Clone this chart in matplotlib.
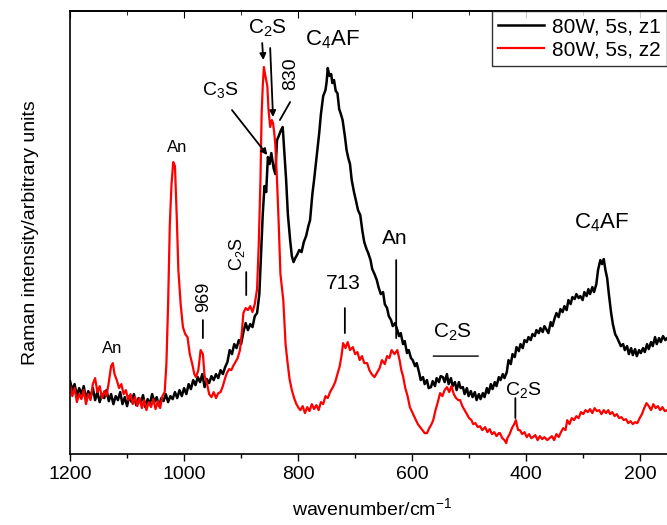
import numpy as np
import matplotlib
matplotlib.use('Agg')
import matplotlib.pyplot as plt

plt.rcParams['font.family'] = ['Liberation Sans', 'DejaVu Sans']
plt.rcParams['mathtext.fontset'] = 'custom'
plt.rcParams['mathtext.rm'] = 'Liberation Sans'
plt.rcParams['mathtext.it'] = 'Liberation Sans'

# 80W, 5s, z1 (black)
wn_z1 = [1200, 1196, 1192, 1188, 1184, 1180, 1176, 1172, 1168, 1164, 1160, 1156, 1152, 1148, 1144,
         1140, 1136, 1132, 1128, 1124, 1120, 1116, 1112, 1108, 1104, 1100, 1096, 1092, 1088, 1084,
         1080, 1076, 1072, 1068, 1064, 1060, 1056, 1052, 1048, 1044, 1040, 1036, 1032, 1028, 1024,
         1020, 1016, 1012, 1008, 1004, 1000, 996, 992, 988, 984, 980, 976, 972, 968, 964,
         960, 956, 952, 948, 944, 940, 936, 932, 928, 924, 920, 916, 912, 908, 904,
         900, 896, 892, 888, 884, 880, 876, 872, 868, 865, 862, 859, 856, 853, 850,
         847, 843, 840, 837, 834, 830, 827, 824, 821, 818, 814, 811, 808, 805, 802,
         798, 794, 790, 786, 782, 779, 775, 772, 768, 765, 763, 760, 756, 752, 750,
         748, 745, 742, 740, 737, 734, 731, 728, 725, 722, 718, 715, 712, 709, 706,
         702, 698, 695, 691, 687, 684, 680, 677, 673, 670, 666, 662, 659, 655, 651,
         648, 644, 641, 637, 634, 630, 626, 623, 620, 616, 613, 609, 606, 602, 599,
         595, 592, 588, 585, 581, 578, 574, 571, 567, 564, 560, 557, 553, 550, 546,
         543, 539, 536, 532, 529, 525, 522, 518, 515, 511, 508, 504, 501, 497, 494,
         490, 487, 483, 480, 476, 473, 469, 466, 462, 459, 455, 452, 448, 445, 441,
         438, 434, 431, 427, 424, 420, 417, 413, 410, 406, 403, 399, 396, 392, 389,
         385, 382, 378, 375, 371, 368, 364, 361, 357, 354, 350, 347, 343, 340, 336,
         333, 329, 326, 322, 319, 315, 312, 308, 305, 301, 298, 294, 291, 288, 284,
         281, 277, 274, 270, 267, 264, 261, 258, 255, 251, 248, 244, 241, 237, 234,
         230, 227, 223, 220, 216, 213, 209, 206, 202, 199, 195, 192, 188, 185, 181,
         178, 174, 171, 167, 164, 160, 156, 153, 149, 145, 141]
int_z1 = [73, 64, 70, 58, 66, 60, 68, 55, 63, 57, 66, 54, 62, 52, 60,
          56, 64, 53, 60, 50, 58, 54, 62, 50, 57, 48, 58, 52, 60, 49,
          56, 51, 59, 47, 55, 50, 60, 52, 57, 48, 56, 53, 60, 52, 58,
          55, 62, 56, 64, 58, 66, 60, 70, 65, 74, 69, 77, 72, 80, 67,
          75, 71, 78, 74, 80, 76, 84, 80, 87, 92, 104, 100, 110, 106, 114,
          110, 122, 131, 124, 130, 127, 138, 141, 160, 200, 240, 268, 262, 297, 290,
          301, 286, 280, 314, 318, 324, 327, 300, 274, 240, 214, 198, 192, 196, 199,
          204, 202, 212, 218, 228, 234, 260, 274, 295, 310, 321, 340, 358, 364, 372,
          386, 378, 380, 371, 374, 363, 361, 345, 340, 334, 318, 304, 296, 290, 274,
          262, 252, 244, 239, 222, 212, 205, 201, 194, 185, 180, 174, 167, 160, 162,
          150, 146, 138, 134, 128, 131, 124, 118, 121, 110, 113, 101, 104, 96, 94,
          88, 91, 82, 74, 77, 70, 74, 66, 67, 73, 68, 76, 72, 78, 77,
          72, 80, 70, 76, 68, 72, 64, 72, 66, 67, 60, 66, 58, 63, 57,
          62, 54, 60, 55, 61, 57, 66, 61, 70, 65, 72, 68, 77, 74, 80,
          76, 82, 94, 90, 100, 97, 107, 103, 110, 106, 114, 112, 117, 114, 120,
          118, 124, 121, 126, 122, 128, 124, 121, 132, 128, 136, 141, 137, 145, 142,
          148, 144, 154, 150, 157, 155, 160, 156, 158, 154, 162, 158, 165, 160, 167,
          162, 170, 184, 194, 190, 195, 184, 176, 160, 141, 130, 120, 117, 112, 108,
          110, 104, 108, 100, 106, 99, 105, 98, 104, 101, 106, 102, 110, 105, 112,
          108, 117, 110, 116, 112, 118, 114, 116, 112, 118, 114]

# 80W, 5s, z2 (red)
wn_z2 = [1200, 1196, 1192, 1188, 1184, 1180, 1176, 1172, 1168, 1164, 1160, 1156, 1152, 1148, 1144,
         1140, 1136, 1132, 1128, 1125, 1122, 1118, 1114, 1110, 1106, 1102, 1098, 1094, 1090, 1086,
         1082, 1078, 1074, 1070, 1066, 1062, 1058, 1054, 1050, 1046, 1042, 1038, 1034, 1031, 1028,
         1025, 1022, 1019, 1016, 1013, 1010, 1006, 1002, 998, 994, 990, 986, 982, 979, 975,
         971, 967, 964, 960, 956, 952, 948, 944, 940, 936, 932, 928, 925, 921, 917,
         914, 910, 906, 902, 899, 896, 892, 888, 884, 880, 876, 872, 869, 866, 864,
         862, 860, 858, 856, 854, 852, 849, 846, 844, 842, 840, 837, 834, 831, 826,
         822, 819, 815, 811, 807, 803, 799, 796, 792, 788, 784, 780, 776, 772, 768,
         764, 760, 756, 752, 748, 744, 739, 735, 731, 727, 724, 721, 717, 713, 709,
         704, 700, 696, 692, 688, 684, 679, 675, 671, 666, 661, 657, 653, 648, 644,
         640, 636, 631, 626, 622, 619, 616, 612, 608, 604, 600, 595, 590, 586, 582,
         578, 574, 570, 566, 563, 559, 555, 551, 547, 543, 539, 535, 531, 527, 523,
         519, 516, 512, 508, 504, 500, 496, 493, 489, 485, 481, 477, 472, 468, 464,
         460, 456, 452, 448, 446, 442, 438, 435, 433, 429, 425, 421, 418, 416, 414,
         411, 407, 403, 399, 395, 391, 388, 384, 380, 376, 372, 368, 363, 359, 355,
         351, 347, 343, 339, 335, 331, 328, 324, 320, 316, 312, 308, 304, 300, 296,
         292, 288, 284, 280, 276, 272, 268, 264, 260, 256, 253, 249, 245, 241, 237,
         233, 229, 225, 221, 217, 213, 209, 205, 201, 197, 193, 189, 185, 181, 177,
         173, 169, 165, 161, 157, 153, 149, 145, 141]
int_z2 = [69, 58, 66, 52, 60, 55, 64, 50, 60, 54, 70, 76, 62, 68, 56,
          63, 58, 72, 88, 91, 80, 74, 66, 70, 60, 64, 54, 60, 50, 57,
          48, 56, 46, 54, 44, 52, 47, 55, 45, 53, 46, 58, 62, 90, 150,
          230, 270, 292, 288, 240, 184, 150, 127, 120, 117, 100, 91, 80, 77, 84,
          104, 100, 78, 71, 60, 57, 62, 56, 61, 62, 68, 76, 81, 85, 84,
          88, 92, 96, 104, 120, 141, 146, 144, 148, 142, 150, 165, 210, 275, 340,
          368, 387, 380, 374, 368, 345, 327, 334, 331, 322, 310, 274, 230, 180, 154,
          110, 94, 75, 64, 56, 50, 46, 44, 48, 41, 47, 43, 50, 45, 49,
          44, 52, 50, 58, 56, 62, 67, 72, 80, 88, 98, 111, 106, 112, 104,
          107, 100, 102, 94, 98, 91, 91, 84, 80, 77, 82, 86, 94, 90, 98,
          96, 104, 100, 104, 94, 84, 78, 66, 58, 47, 42, 36, 30, 27, 24,
          21, 21, 26, 30, 34, 44, 52, 61, 58, 64, 67, 62, 68, 60, 56,
          54, 54, 48, 44, 40, 36, 34, 30, 31, 27, 28, 24, 27, 22, 25,
          20, 22, 18, 21, 21, 16, 14, 11, 16, 20, 26, 30, 34, 28, 24,
          24, 20, 22, 17, 20, 16, 17, 19, 14, 18, 15, 17, 14, 16, 18,
          14, 20, 17, 22, 26, 24, 34, 30, 36, 34, 38, 36, 42, 40, 44,
          42, 45, 41, 46, 43, 44, 40, 44, 41, 44, 40, 42, 38, 40, 36,
          37, 34, 35, 31, 33, 30, 32, 31, 36, 40, 46, 51, 48, 44, 50,
          46, 48, 44, 47, 43, 44, 40, 42, 38]

fig = plt.figure(figsize=(6.67, 5.25), dpi=100)
ax = fig.add_axes([0.105, 0.135, 0.907, 0.844])

ax.plot(wn_z1, int_z1, color='black', lw=1.8, label='80W, 5s, z1')
ax.plot(wn_z2, int_z2, color='red', lw=1.6, label='80W, 5s, z2')

ax.set_xlim(1200, 139)
ax.set_ylim(0, 443)
ax.set_xticks([1200, 1000, 800, 600, 400, 200])
ax.set_xticks(np.arange(1100, 139, -200), minor=True)
ax.set_yticks([])
ax.tick_params(axis='x', which='major', direction='out', length=5, width=1, labelsize=14, top=False)
ax.tick_params(axis='x', which='minor', direction='out', length=3, width=1)
for s in ax.spines.values():
    s.set_linewidth(1.2)

# inward ticks on the top spine
sec = ax.secondary_xaxis('top')
sec.set_xticks([1200, 1000, 800, 600, 400, 200])
sec.set_xticks(np.arange(1100, 139, -200), minor=True)
sec.tick_params(which='major', direction='in', length=5, labeltop=False)
sec.tick_params(which='minor', direction='in', length=3)
sec.spines['top'].set_linewidth(1.2)

ax.set_xlabel('wavenumber/cm$^{\\mathregular{-1}}$', fontsize=14, labelpad=10)
ax.set_ylabel('Raman intensity/arbitrary units', fontsize=14, labelpad=22)

leg = ax.legend(loc='upper left', bbox_to_anchor=(492 / 667, 1 - 11 / 525),
                bbox_transform=fig.transFigure, fontsize=15, frameon=True,
                fancybox=False, edgecolor='black', borderaxespad=0, handlelength=2.2,
                labelspacing=0.2, borderpad=0.3, handletextpad=0.4)
leg.get_frame().set_linewidth(1.0)

c2s = 'C$_{\\mathregular{2}}$S'
c3s = 'C$_{\\mathregular{3}}$S'
c4af = 'C$_{\\mathregular{4}}$AF'

# labels
ax.text(1126, 106, 'An', fontsize=12, ha='center', va='center')
ax.text(1012, 307, 'An', fontsize=12, ha='center', va='center')
ax.text(965, 157, '969', fontsize=13, rotation=90, ha='center', va='center')
ax.text(907, 200, c2s, fontsize=13, rotation=90, ha='center', va='center')
ax.text(937, 364, c3s, fontsize=14, ha='center', va='center')
ax.text(853, 426, c2s, fontsize=15, ha='center', va='center')
ax.text(814, 380, '830', fontsize=14, rotation=90, ha='center', va='center')
ax.text(740, 414, c4af, fontsize=16, ha='center', va='center')
ax.text(721, 171, '713', fontsize=15, ha='center', va='center')
ax.text(630, 216, 'An', fontsize=15, ha='center', va='center')
ax.text(530, 122, c2s, fontsize=15, ha='center', va='center')
ax.text(405, 64, c2s, fontsize=14, ha='center', va='center')
ax.text(267, 231, c4af, fontsize=16, ha='center', va='center')

# marker lines and arrows
line = dict(arrowstyle='-', color='black', lw=1.3, shrinkA=0, shrinkB=0)
arrow = dict(arrowstyle='-|>', color='black', lw=1.3, mutation_scale=9, shrinkA=0, shrinkB=0)
ax.annotate('', xy=(967, 116), xytext=(967, 134), arrowprops=line)
ax.annotate('', xy=(891, 159), xytext=(891, 182), arrowprops=line)
ax.annotate('', xy=(718, 121), xytext=(718, 146), arrowprops=line)
ax.annotate('', xy=(628, 116), xytext=(628, 194), arrowprops=line)
ax.annotate('', xy=(484, 98), xytext=(563, 98), arrowprops=dict(line, lw=1.0))
ax.annotate('', xy=(419, 36), xytext=(419, 56), arrowprops=line)
ax.annotate('', xy=(832, 334), xytext=(814, 352), arrowprops=line)
ax.annotate('', xy=(854, 299), xytext=(916, 344), arrowprops=arrow)
ax.annotate('', xy=(861, 394), xytext=(863, 411), arrowprops=arrow)
ax.annotate('', xy=(844, 337), xytext=(849, 406), arrowprops=arrow)

fig.savefig('out.png', dpi=100)
